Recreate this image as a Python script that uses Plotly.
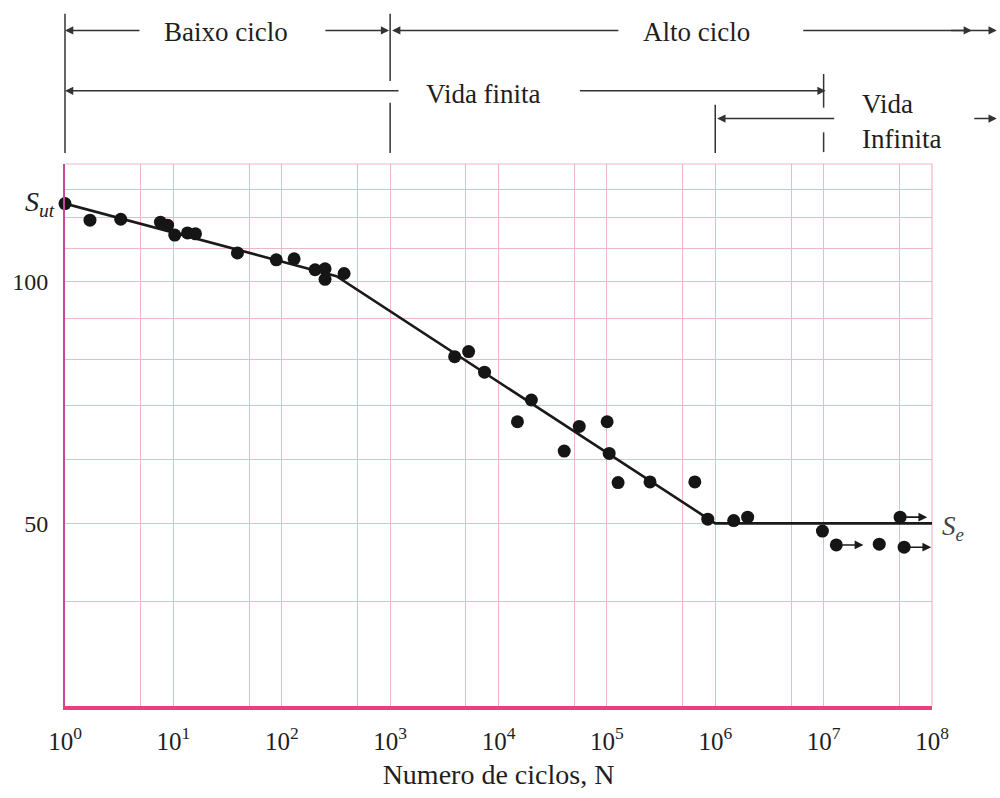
import numpy as np
import plotly.graph_objects as go

# ---------------- data ----------------
N_cycles = [1, 1.7, 3.27, 7.6, 8.85, 10.3, 13.5, 16, 39, 89, 130, 203, 251, 251, 376,
            3940, 5300, 7430, 14960, 20100, 40400, 55600, 100500, 105000, 126900,
            250000, 648000, 853000, 1.48e6, 1.99e6, 9.75e6, 1.31e7, 3.26e7, 5.08e7, 5.53e7]
S_values = [125, 119.2, 119.5, 118.5, 117.5, 114.2, 114.9, 114.6, 108.5, 106.4, 106.7,
            103.4, 103.7, 100.6, 102.3, 80.6, 81.8, 77.1, 66.9, 71.2, 61.5, 66.0, 66.9,
            61.1, 56.2, 56.3, 56.3, 50.6, 50.4, 50.9, 48.9, 47.0, 47.1, 50.9, 46.7]
runout_N = [1.31e7, 5.08e7, 5.53e7]
runout_S = [47.0, 50.9, 46.7]
curve_N = [1, 320, 1e6, 1e8]
curve_S = [125, 101.5, 50, 50]
S_ut = 125
S_e = 50

x_tick_vals = [1, 5, 10, 50, 1e2, 5e2, 1e3, 5e3, 1e4, 5e4, 1e5, 5e5, 1e6, 5e6, 1e7, 5e7, 1e8]
x_tick_text = ["10<sup>0</sup>", "", "10<sup>1</sup>", "", "10<sup>2</sup>", "", "10<sup>3</sup>", "",
               "10<sup>4</sup>", "", "10<sup>5</sup>", "", "10<sup>6</sup>", "", "10<sup>7</sup>", "",
               "10<sup>8</sup>"]
y_tick_vals = [40, 50, 60, 70, 80, 90, 100, 110, 120, 130, 140]
y_tick_text = ["", "50", "", "", "", "", "100", "", "", "", ""]

region_bounds = [1, 1e3, 1e6, 1e7, 1e8]   # low/high cycle, finite/infinite life limits

# ---------------- layout helpers ----------------
L, R, T, B = 62, 68, 164, 86
W, H = 1000, 798
PW, PH = W - L - R, H - T - B
def px(xp):
    return (xp - L) / PW
def py(yp):
    return (H - B - yp) / PH
def bx(n):
    return np.log10(n) / 8.0

FONT = "'Liberation Serif', 'Times New Roman', Times, serif"
TXT = "#1e1e1e"
GRID = "#eeb5cd"

fig = go.Figure()
fig.add_trace(go.Scatter(x=curve_N, y=curve_S, mode="lines",
                         line=dict(color="#1a1a1a", width=2.6), cliponaxis=False,
                         showlegend=False, hoverinfo="skip"))
fig.add_trace(go.Scatter(x=N_cycles, y=S_values, mode="markers",
                         marker=dict(color="#151515", size=13), cliponaxis=False,
                         showlegend=False))

annotations = []
shapes = []

# run-out arrows
for n, s in zip(runout_N, runout_S):
    annotations.append(dict(xref="x", yref="y", axref="x", ayref="y",
                            x=np.log10(n) + 0.25, y=np.log10(s),
                            ax=np.log10(n) + 0.04, ay=np.log10(s),
                            text="", showarrow=True, arrowhead=2, arrowsize=1.1,
                            arrowwidth=1.6, arrowcolor="#1a1a1a"))

# labels S_ut and S_e
annotations.append(dict(xref="paper", yref="y", x=px(54), y=np.log10(S_ut), xanchor="right",
                        yanchor="middle", showarrow=False,
                        text="<i>S</i><sub><i>ut</i></sub>",
                        font=dict(family=FONT, size=28, color=TXT)))
annotations.append(dict(xref="paper", yref="y", x=px(940), y=np.log10(S_e) - 0.006, xanchor="left",
                        yanchor="middle", showarrow=False,
                        text="<i>S</i><sub><i>e</i></sub>",
                        font=dict(family=FONT, size=27, color="#444")))

# top region labels
def label(text, xc, yc, anchor="center"):
    annotations.append(dict(xref="paper", yref="paper", x=px(xc), y=py(yc), text=text,
                            showarrow=False, xanchor=anchor, yanchor="middle", align="left",
                            font=dict(family=FONT, size=27, color=TXT)))

def arrow(tip, tail, yp):
    annotations.append(dict(xref="paper", yref="paper", x=px(tip), y=py(yp),
                            ax=tail - tip, ay=0, text="", showarrow=True,
                            arrowhead=2, arrowsize=1.1, arrowwidth=1.5, arrowcolor="#333"))

label("Baixo ciclo", 224, 31)
label("Alto ciclo", 696, 31)
label("Vida finita", 482, 93)
label("Vida<br>Infinita", 860, 121, anchor="left")

y1, y2, y3 = 29, 90, 118
arrow(L, 138, y1)
arrow(L + PW * bx(region_bounds[1]) - 1, 322, y1)
arrow(L + PW * bx(region_bounds[1]) + 2, 618, y1)
arrow(997, 802, y1)
arrow(972, 950, y1)
arrow(L, 397, y2)
arrow(L + PW * bx(region_bounds[3]) + 2, 578, y2)
arrow(L + PW * bx(region_bounds[2]) + 2, 835, y3)
arrow(997, 973, y3)

def vline(xpaper, ytop, ybot):
    shapes.append(dict(type="line", xref="paper", yref="paper", x0=xpaper, x1=xpaper,
                       y0=py(ytop), y1=py(ybot), line=dict(color="#333", width=1.5)))

vline(bx(region_bounds[0]), 12, 153)
vline(bx(region_bounds[1]), 12, 80)
vline(bx(region_bounds[1]), 102, 153)
vline(bx(region_bounds[2]), 104, 153)
vline(bx(region_bounds[3]), 73, 107)
vline(bx(region_bounds[3]), 132, 152)

# top / right frame in grid color
shapes.append(dict(type="line", xref="paper", yref="paper", x0=0, x1=1, y0=1, y1=1,
                   line=dict(color=GRID, width=1.2), layer="below"))
shapes.append(dict(type="line", xref="paper", yref="paper", x0=1, x1=1, y0=0, y1=1,
                   line=dict(color=GRID, width=1.2), layer="below"))

fig.update_layout(
    width=W, height=H, margin=dict(l=L, r=R, t=T, b=B),
    paper_bgcolor="white", plot_bgcolor="white",
    font=dict(family=FONT, color=TXT),
    annotations=annotations, shapes=shapes, showlegend=False,
    xaxis=dict(type="log", range=[0, 8], tickmode="array", tickvals=x_tick_vals,
               ticktext=x_tick_text, showgrid=True, gridcolor=GRID, gridwidth=1,
               showline=True, linecolor="#e8407f", linewidth=3.5, ticks="",
               tickfont=dict(family=FONT, size=25, color=TXT), ticklabelstandoff=10,
               zeroline=False,
               title=dict(text="Numero de ciclos, N", standoff=12,
                          font=dict(family=FONT, size=28, color=TXT))),
    yaxis=dict(type="log", range=[1.4717, np.log10(140)], tickmode="array",
               tickvals=y_tick_vals, ticktext=y_tick_text, showgrid=True,
               gridcolor=GRID, gridwidth=1, showline=True, linecolor="#c8469f",
               linewidth=2, ticks="", tickfont=dict(family=FONT, size=24, color=TXT),
               ticklabelstandoff=10, zeroline=False),
)

fig.write_html("out.html")
